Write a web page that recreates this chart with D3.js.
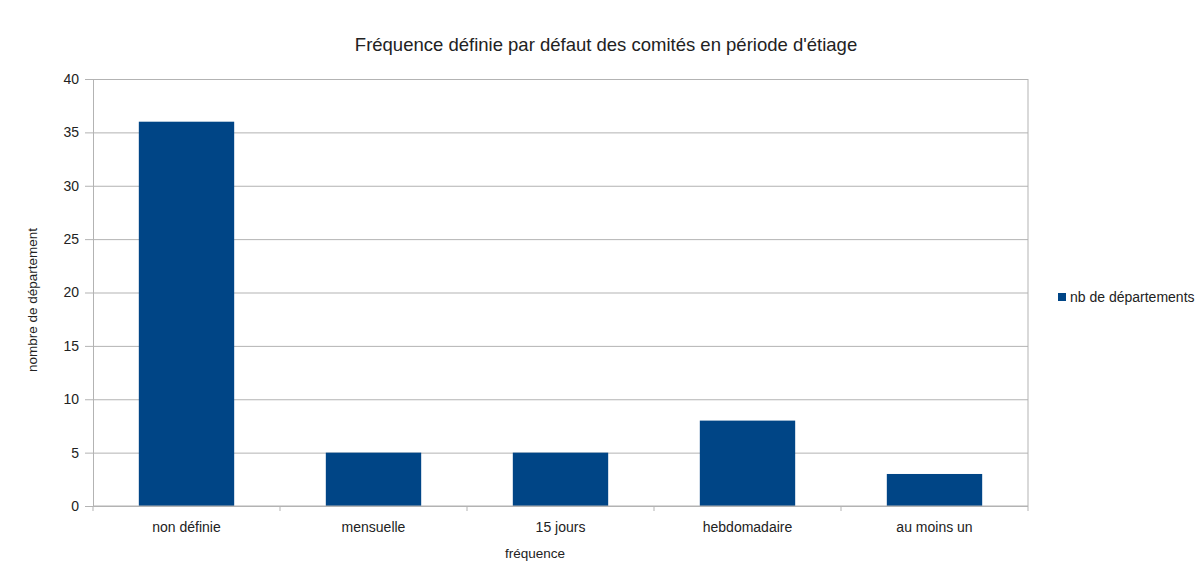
<!DOCTYPE html>
<html>
<head>
<meta charset="utf-8">
<script src="https://cdn.jsdelivr.net/npm/d3@7"></script>
<style>
  body { margin: 0; background: #fff; }
  text { font-family: "Liberation Sans", Arial, sans-serif; fill: #222; }
</style>
</head>
<body>
<div id="chart"></div>
<script>
// data
var categories = ["non définie", "mensuelle", "15 jours", "hebdomadaire", "au moins un"];
var values = [36, 5, 5, 8, 3];
var yTicks = [0, 5, 10, 15, 20, 25, 30, 35, 40];
var seriesName = "nb de départements";

var svg = d3.select("#chart")
    .append("svg")
    .attr("width", 1198)
    .attr("height", 577),
    margin = { top: 79, right: 170, bottom: 71, left: 93 },
    width = +svg.attr("width") - margin.left - margin.right,
    height = +svg.attr("height") - margin.top - margin.bottom;

var g = svg.append("g")
    .attr("transform", "translate(" + margin.left + "," + margin.top + ")");

var x = d3.scaleBand()
    .domain(categories)
    .range([0, width])
    .paddingInner(0.49)
    .paddingOuter(0.245);

var y = d3.scaleLinear()
    .domain([0, 40])
    .range([height, 0]);

// horizontal grid
g.append("g")
    .attr("class", "grid")
    .call(d3.axisLeft(y)
        .tickValues(yTicks)
        .tickSize(-width)
        .tickFormat(""))
    .call(function (s) {
        s.select(".domain").remove();
        s.selectAll("line").attr("stroke", "#b3b3b3");
    });

// y axis
g.append("g")
    .call(d3.axisLeft(y).tickValues(yTicks).tickSize(8).tickPadding(6))
    .call(function (s) {
        s.select(".domain").attr("stroke", "#b3b3b3");
        s.selectAll("line").attr("stroke", "#b3b3b3");
        s.selectAll("text").style("font-size", "14px").attr("fill", "#222");
    });

// right border
g.append("line")
    .attr("x1", width).attr("x2", width)
    .attr("y1", 0).attr("y2", height)
    .attr("stroke", "#b3b3b3");

// bars
g.selectAll(".bar")
    .data(values)
    .enter().append("rect")
    .attr("class", "bar")
    .attr("x", function (d, i) { return x(categories[i]); })
    .attr("width", x.bandwidth())
    .attr("y", function (d) { return y(d); })
    .attr("height", function (d) { return height - y(d); })
    .attr("fill", "#004586");

// x axis: ticks on band boundaries
var xAxis = g.append("g")
    .attr("transform", "translate(0," + height + ")");
xAxis.append("line")
    .attr("x1", 0).attr("x2", width)
    .attr("stroke", "#b3b3b3");
xAxis.selectAll(".tick-b")
    .data(d3.range(categories.length + 1))
    .enter().append("line")
    .attr("x1", function (i) { return i * x.step(); })
    .attr("x2", function (i) { return i * x.step(); })
    .attr("y1", 0).attr("y2", 5)
    .attr("stroke", "#b3b3b3");
xAxis.selectAll(".lbl")
    .data(categories)
    .enter().append("text")
    .attr("x", function (d) { return x(d) + x.bandwidth() / 2; })
    .attr("y", 26)
    .attr("text-anchor", "middle")
    .style("font-size", "14px")
    .text(function (d) { return d; });

// title
svg.append("text")
    .attr("x", 606)
    .attr("y", 51)
    .attr("text-anchor", "middle")
    .style("font-size", "18.5px")
    .text("Fréquence définie par défaut des comités en période d'étiage");

// axis titles
svg.append("text")
    .attr("x", 535)
    .attr("y", 558)
    .attr("text-anchor", "middle")
    .style("font-size", "13.5px")
    .text("fréquence");

svg.append("text")
    .attr("transform", "rotate(-90)")
    .attr("x", -300)
    .attr("y", 37)
    .attr("text-anchor", "middle")
    .style("font-size", "13.5px")
    .text("nombre de département");

// legend
var legend = svg.append("g")
    .attr("transform", "translate(1058,292)");
legend.append("rect")
    .attr("width", 8).attr("height", 8)
    .attr("y", 1)
    .attr("fill", "#004586");
legend.append("text")
    .attr("x", 12)
    .attr("y", 10)
    .style("font-size", "14px")
    .text(seriesName);
</script>
</body>
</html>
